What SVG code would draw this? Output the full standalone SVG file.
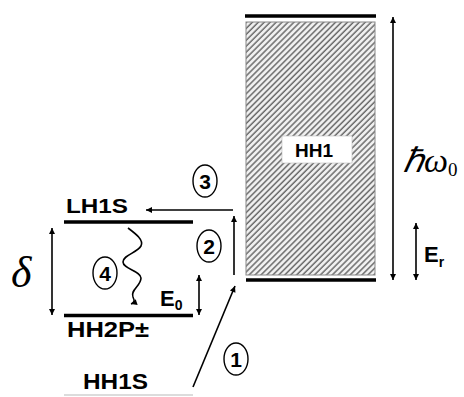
<svg xmlns="http://www.w3.org/2000/svg" width="464" height="397" viewBox="0 0 464 397">
<defs>
<pattern id="hatch" width="4.2" height="4.2" patternUnits="userSpaceOnUse" patternTransform="rotate(45)">
<rect width="4.2" height="4.2" fill="#f2f2f2"/>
<line x1="1" y1="0" x2="1" y2="4.2" stroke="#6a6a6a" stroke-width="1.5"/>
</pattern>
<marker id="ah" viewBox="0 0 10 10" refX="10" refY="5" markerWidth="9" markerHeight="6" markerUnits="userSpaceOnUse" orient="auto-start-reverse">
<path d="M0,0 L10,5 L0,10 z" fill="#000"/>
</marker>
</defs>
<style>
.lbl{font-family:"Liberation Sans",Arial,sans-serif;font-weight:bold;fill:#000}
.sym{font-family:"Liberation Serif","Times New Roman",serif;font-style:italic;fill:#000}
.lvl{stroke:#000;stroke-width:3.4;fill:none}
.arr{stroke:#000;stroke-width:1.6;fill:none}
.circ{fill:none;stroke:#000;stroke-width:1.4}
.num{font-family:"Liberation Sans",Arial,sans-serif;font-weight:bold;font-size:21px;text-anchor:middle;fill:#000}
</style>

<g id="HH1">
<rect x="246" y="22" width="129" height="253" fill="url(#hatch)" stroke="#888" stroke-width="1"/>
<line class="lvl" x1="245" y1="16" x2="376" y2="16"/>
<line class="lvl" x1="246" y1="280" x2="376" y2="280"/>
<rect x="282" y="136" width="70" height="27" fill="#fff" stroke="#bbb" stroke-width="0.6"/>
<text class="lbl" x="314" y="157" font-size="19" text-anchor="middle">HH1</text>
</g>

<g id="LH1S">
<line class="lvl" x1="64" y1="222" x2="193" y2="222"/>
<text class="lbl" x="66" y="213" font-size="21" textLength="62" lengthAdjust="spacingAndGlyphs">LH1S</text>
</g>

<g id="HH2P">
<line class="lvl" x1="64" y1="315.5" x2="193" y2="315.5"/>
<text class="lbl" x="67" y="337" font-size="22" textLength="82" lengthAdjust="spacingAndGlyphs">HH2P±</text>
</g>

<g id="HH1S">
<line x1="64" y1="395" x2="193" y2="395" stroke="#d0d0d0" stroke-width="1.5"/>
<text class="lbl" x="83" y="389" font-size="22" textLength="65" lengthAdjust="spacingAndGlyphs">HH1S</text>
</g>

<g id="labels">
<text class="sym" x="11" y="287" font-size="44">δ</text>
<text class="sym" x="403" y="172" font-size="34">ℏω<tspan font-style="normal" font-size="19" dy="4">0</tspan></text>
<text class="lbl" x="424" y="262" font-size="22">E<tspan font-size="14" dy="5">r</tspan></text>
<text class="lbl" x="160" y="306" font-size="22">E<tspan font-size="14" dy="4">0</tspan></text>
</g>

<g id="connectors">
<line class="arr" x1="393" y1="17" x2="393" y2="280" marker-start="url(#ah)" marker-end="url(#ah)"/>
<line class="arr" x1="416" y1="223" x2="416" y2="280" marker-start="url(#ah)" marker-end="url(#ah)"/>
<line class="arr" x1="52" y1="228" x2="52" y2="315" marker-start="url(#ah)" marker-end="url(#ah)"/>
<line class="arr" x1="199" y1="275" x2="199" y2="315" marker-start="url(#ah)" marker-end="url(#ah)"/>
<line class="arr" x1="234" y1="275" x2="234" y2="216" marker-end="url(#ah)"/>
<line class="arr" x1="233" y1="210" x2="146" y2="210" marker-end="url(#ah)"/>
<line class="arr" x1="193" y1="387" x2="235" y2="286" marker-end="url(#ah)"/>
<path class="arr" stroke-width="1.8" d="M128,228 C136,234 144,240 141,246 C137,253 123,255 123,262 C123,269 141,271 141,278 C141,286 130,290 133,297 C135,301 134,303 131,304" marker-end="url(#ah)"/>
</g>

<g id="step1"><ellipse class="circ" cx="236" cy="359" rx="12" ry="16"/><text class="num" x="236" y="367">1</text></g>
<g id="step2"><ellipse class="circ" cx="209" cy="246" rx="12" ry="16"/><text class="num" x="209" y="254">2</text></g>
<g id="step3"><ellipse class="circ" cx="205" cy="181" rx="12" ry="16"/><text class="num" x="205" y="189">3</text></g>
<g id="step4"><ellipse class="circ" cx="105" cy="273" rx="12" ry="16"/><text class="num" x="105" y="281">4</text></g>
</svg>
